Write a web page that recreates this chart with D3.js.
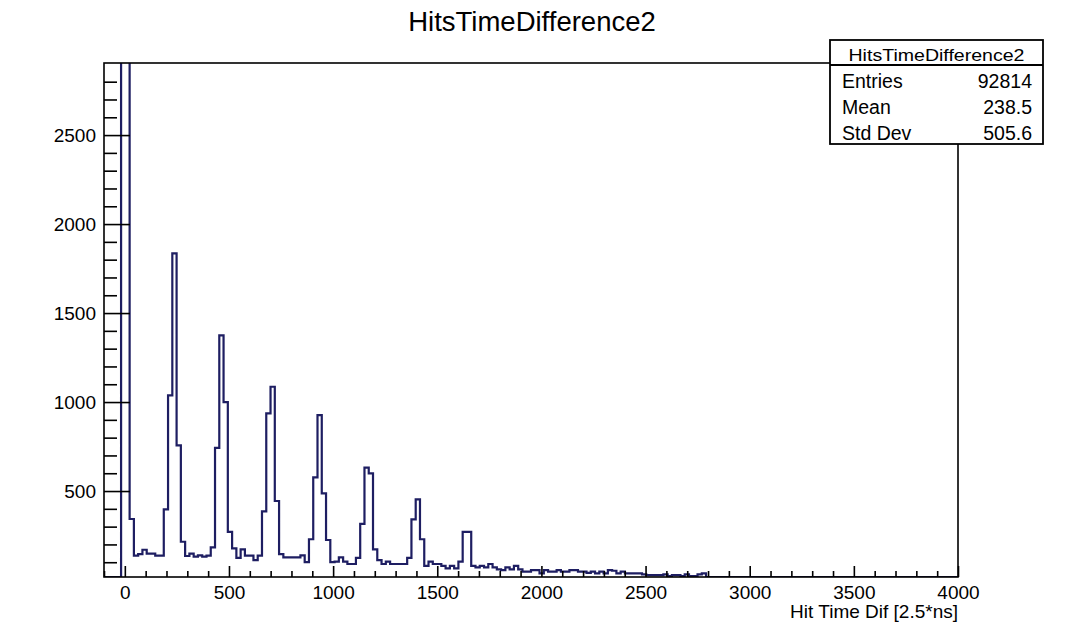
<!DOCTYPE html>
<html>
<head>
<meta charset="utf-8">
<script src="https://cdn.jsdelivr.net/npm/d3@7"></script>
<style>
  body { margin: 0; background: #fff; }
  svg { display: block; }
  text { font-family: "Liberation Sans", Arial, Helvetica, sans-serif; fill: #000; }
</style>
</head>
<body>
<div id="chart"></div>
<script>
// Histogram binning (200 bins from -100 to 4000)
const binLow = -100;
const binWidth = 20.5;

// Bin contents (bins 4,5 go off the top of the frame)
const counts = [
  0, 0, 0, 0, 31000, 36000, 343, 137, 146, 170,
  148, 148, 137, 137, 397, 1037, 1835, 757, 215, 135,
  148, 131, 139, 131, 137, 184, 742, 1375, 1000, 271,
  178, 125, 172, 137, 137, 112, 137, 386, 936, 1086,
  444, 146, 127, 127, 127, 127, 139, 101, 229, 577,
  927, 487, 225, 101, 103, 127, 103, 90, 90, 125,
  315, 631, 599, 172, 112, 90, 103, 90, 90, 90,
  90, 125, 341, 453, 229, 80, 103, 90, 90, 80,
  66, 80, 66, 103, 271, 271, 80, 71, 80, 71,
  90, 71, 60, 56, 71, 60, 80, 60, 47, 47,
  56, 56, 37, 56, 47, 47, 56, 47, 47, 56,
  56, 47, 47, 40, 47, 37, 47, 37, 56, 52,
  37, 47, 37, 37, 37, 37, 32, 28, 28, 28,
  28, 32, 22, 28, 28, 22, 32, 22, 22, 32,
  37, 0, 0, 0, 0, 0, 0, 0, 0, 0,
  0, 0, 0, 0, 0, 0, 0, 0, 0, 0,
  0, 0, 0, 0, 0, 0, 0, 0, 0, 0,
  0, 0, 0, 0, 0, 0, 0, 0, 0, 0,
  0, 0, 0, 0, 0, 0, 0, 0, 0, 0,
  0, 0, 0, 0, 0, 0, 0, 0, 0, 0
];

// Axis ticks
const xTicks = [0, 500, 1000, 1500, 2000, 2500, 3000, 3500, 4000];
const yTicks = [500, 1000, 1500, 2000, 2500];

// Texts
const title = "HitsTimeDifference2";
const xTitle = "Hit Time Dif [2.5*ns]";
const statsLabels = ["Entries", "Mean", "Std Dev"];
const statsValues = ["92814", "238.5", "505.6"];

// Layout
const W = 1068, H = 644;
const frame = { left: 104, right: 958, top: 63, bottom: 577 };
const lineColor = "#1e1e62";

const x = d3.scaleLinear().domain([-100, 4000]).range([frame.left, frame.right]);
const y = d3.scaleLinear().domain([17, 2905]).range([frame.bottom, frame.top]);

const svg = d3.select("#chart").append("svg").attr("width", W).attr("height", H);

svg.append("defs").append("clipPath").attr("id", "frameClip")
  .append("rect")
  .attr("x", frame.left).attr("y", frame.top)
  .attr("width", frame.right - frame.left).attr("height", frame.bottom - frame.top);

// Title
svg.append("text")
  .attr("x", 532).attr("y", 31)
  .attr("text-anchor", "middle")
  .style("font-size", "27.5px")
  .text(title);

// Histogram outline as a step path
const pts = [];
counts.forEach((c, i) => {
  const x0 = binLow + i * binWidth;
  const x1 = x0 + binWidth;
  const v = Math.max(c, y.domain()[0]);
  pts.push([x(x0), y(v)], [x(x1), y(v)]);
});
const stepLine = d3.line();
svg.append("path")
  .attr("d", stepLine(pts))
  .attr("clip-path", "url(#frameClip)")
  .attr("fill", "none")
  .attr("stroke", lineColor)
  .attr("stroke-width", 2.2);

// Y axis: major with labels, minor without
const yMinor = d3.range(100, 2900, 100).filter((d) => d % 500 !== 0);
svg.append("g")
  .attr("transform", `translate(${frame.left},0)`)
  .call(d3.axisLeft(y).tickValues(yMinor).tickSize(-13).tickFormat(""))
  .call((g) => g.select(".domain").remove());
svg.append("g")
  .attr("class", "y-axis")
  .attr("transform", `translate(${frame.left},0)`)
  .call(d3.axisLeft(y).tickValues(yTicks).tickSize(-26).tickPadding(8).tickFormat(d3.format("d")))
  .call((g) => g.select(".domain").remove());

// X axis
const xMinor = d3.range(-100, 4000, 100).filter((d) => d % 500 !== 0);
svg.append("g")
  .attr("transform", `translate(0,${frame.bottom})`)
  .call(d3.axisBottom(x).tickValues(xMinor).tickSize(-6).tickFormat(""))
  .call((g) => g.select(".domain").remove());
svg.append("g")
  .attr("class", "x-axis")
  .attr("transform", `translate(0,${frame.bottom})`)
  .call(d3.axisBottom(x).tickValues(xTicks).tickSize(-11).tickPadding(10).tickFormat(d3.format("d")))
  .call((g) => g.select(".domain").remove());

svg.selectAll(".tick line").attr("stroke", "#000").attr("stroke-width", 1.6);
svg.selectAll(".tick text").style("font-size", "19px").attr("fill", "#000");
svg.selectAll(".x-axis .tick text").attr("dy", null).attr("y", 22);
svg.selectAll(".y-axis .tick text").attr("dy", "0.36em");

// Frame
svg.append("rect")
  .attr("x", frame.left).attr("y", frame.top)
  .attr("width", frame.right - frame.left).attr("height", frame.bottom - frame.top)
  .attr("fill", "none").attr("stroke", "#000").attr("stroke-width", 1.6);

// X axis title
svg.append("text")
  .attr("x", frame.right).attr("y", 618)
  .attr("text-anchor", "end")
  .style("font-size", "19px")
  .text(xTitle);

// Stats box
const box = { left: 830, right: 1043, top: 40, bottom: 144, header: 65 };
const sb = svg.append("g");
sb.append("rect")
  .attr("x", box.left).attr("y", box.top)
  .attr("width", box.right - box.left).attr("height", box.bottom - box.top)
  .attr("fill", "#fff").attr("stroke", "#000").attr("stroke-width", 1.8);
sb.append("line")
  .attr("x1", box.left).attr("x2", box.right)
  .attr("y1", box.header).attr("y2", box.header)
  .attr("stroke", "#000").attr("stroke-width", 1.8);
sb.append("text")
  .attr("x", (box.left + box.right) / 2).attr("y", 60.5)
  .attr("text-anchor", "middle")
  .attr("textLength", 176).attr("lengthAdjust", "spacingAndGlyphs")
  .style("font-size", "17px")
  .text(title);
const rowY = d3.scalePoint().domain(statsLabels).range([87.5, 139.5]);
sb.selectAll(".stat-label")
  .data(statsLabels)
  .enter()
  .append("text")
  .attr("class", "stat-label")
  .attr("x", 842).attr("y", (d) => rowY(d))
  .style("font-size", "19.5px")
  .text((d) => d);
sb.selectAll(".stat-value")
  .data(statsValues)
  .enter()
  .append("text")
  .attr("class", "stat-value")
  .attr("x", 1032).attr("y", (d, i) => rowY(statsLabels[i]))
  .attr("text-anchor", "end")
  .style("font-size", "19.5px")
  .text((d) => d);
</script>
</body>
</html>
